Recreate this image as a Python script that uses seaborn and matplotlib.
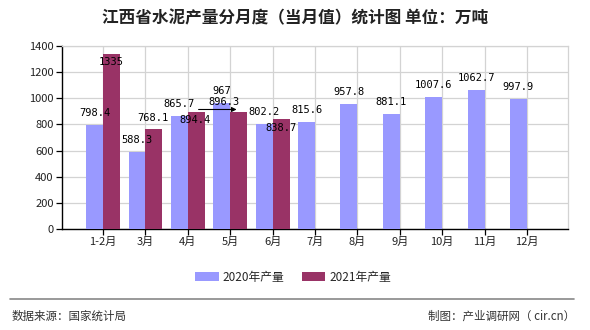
import matplotlib
matplotlib.use("Agg")
import matplotlib.pyplot as plt
import seaborn as sns
import pandas as pd
from matplotlib.lines import Line2D

months = ["1-2月", "3月", "4月", "5月", "6月", "7月", "8月", "9月", "10月", "11月", "12月"]
v2020 = [798.4, 588.3, 865.7, 967, 802.2, 815.6, 957.8, 881.1, 1007.6, 1062.7, 997.9]
v2021 = [1335, 768.1, 894.4, 896.3, 838.7]
series = ["2020年产量", "2021年产量"]
colors = ["#9999FF", "#993366"]
yticks = [0, 200, 400, 600, 800, 1000, 1200, 1400]

df = pd.DataFrame(
    {"month": months + months[:len(v2021)],
     "value": v2020 + v2021,
     "series": [series[0]] * len(v2020) + [series[1]] * len(v2021)}
)

sns.set_theme(style="white")
plt.rcParams["font.family"] = ["Noto Sans CJK SC", "DejaVu Sans"]

fig = plt.figure(figsize=(5.9, 3.3), dpi=100)
ax = fig.add_axes([62 / 590, 1 - 229 / 330, (568 - 62) / 590, (229 - 46) / 330])

sns.barplot(data=df, x="month", y="value", hue="series", order=months,
            hue_order=series, palette=colors, saturation=1, width=0.8,
            ax=ax, legend=True, errorbar=None, zorder=3,
            edgecolor="none", linewidth=0)

ax.set_xlim(-0.97, 10.97)
ax.set_ylim(0, 1400)
ax.set_yticks(yticks)
ax.set_yticklabels([str(t) for t in yticks], fontsize=8, color="#222222")
ax.set_xticks(range(len(months)))
ax.set_xticklabels(months, fontsize=8, color="#222222")
ax.set_xlabel("")
ax.set_ylabel("")
ax.grid(True, color="#d3d3d3", linewidth=0.9, zorder=0)
ax.set_axisbelow(True)
for s in ["top", "right"]:
    ax.spines[s].set_color("#d3d3d3")
    ax.spines[s].set_linewidth(0.9)
for s in ["left", "bottom"]:
    ax.spines[s].set_color("black")
    ax.spines[s].set_linewidth(1.0)
ax.tick_params(axis="both", which="both", length=4, width=0.9, color="black",
               direction="out", pad=2, bottom=True, left=True)

handles, labels = ax.get_legend_handles_labels()
ax.get_legend().remove()
fig.legend(handles, labels, loc="center", bbox_to_anchor=(293 / 590, 1 - 277 / 330),
           ncol=2, frameon=False, fontsize=8.5, handlelength=2.0, handleheight=0.8,
           columnspacing=1.5, handletextpad=0.3)

lab_font = dict(fontsize=7.5, family="DejaVu Sans Mono", color="black", ha="center", va="center")
# 2020 labels: above bars
for i, v in enumerate(v2020):
    ax.annotate(f"{v:g}", xy=(i - 0.2, v), xytext=(0, 12), textcoords="offset pixels",
                zorder=5, **lab_font)
# 2021 labels with offsets (pixels) as in reference layout
off2021 = [(0, -8), (-1, 11), (-1, -8), (-0.8, 10), (0, -9)]
for i, v in enumerate(v2021):
    dx, dy = off2021[i]
    if i == 3:
        ax.annotate(f"{v:g}", xy=(i - 0.15, v), xytext=(0, dy), textcoords="offset pixels",
                    zorder=5, **lab_font)
        ax.annotate("", xy=(i + 0.15, v + 18), xytext=(-38, 0), textcoords="offset pixels",
                    arrowprops=dict(arrowstyle="-|>", color="black", lw=0.8,
                                    mutation_scale=7, shrinkA=0, shrinkB=0), zorder=5)
    else:
        ax.annotate(f"{v:g}", xy=(i + 0.2, v), xytext=(dx, dy), textcoords="offset pixels",
                    zorder=5, **lab_font)

fig.text(295 / 590, 1 - 18 / 330, "江西省水泥产量分月度（当月值）统计图 单位：万吨",
         ha="center", va="center", fontsize=12, color="#222222", fontweight="bold")

fig.add_artist(Line2D([10 / 590, 574 / 590], [1 - 299 / 330, 1 - 299 / 330],
                      transform=fig.transFigure, color="#888888", linewidth=1.2))
fig.text(12 / 590, 1 - 316 / 330, "数据来源：国家统计局", ha="left", va="center",
         fontsize=8.3, color="#333333")
fig.text(575 / 590, 1 - 316 / 330, "制图：产业调研网（ cir.cn）", ha="right", va="center",
         fontsize=8.3, color="#333333")

fig.savefig("out.png", dpi=100)
